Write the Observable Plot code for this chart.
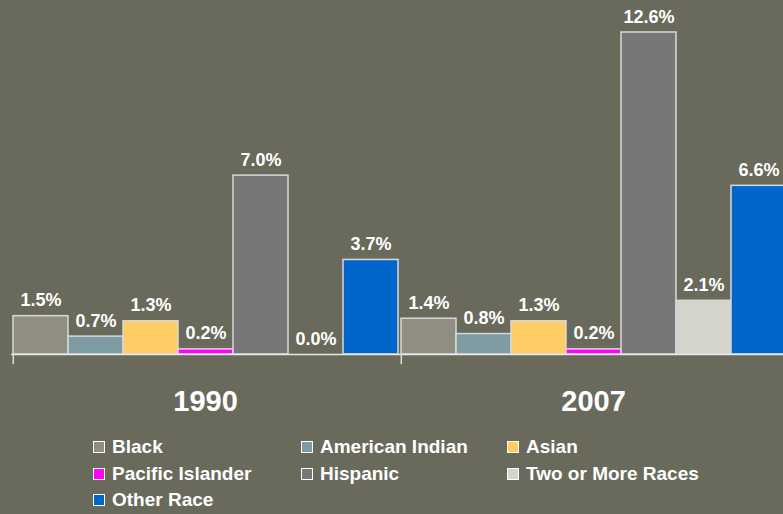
<!DOCTYPE html>
<html>
<head>
<meta charset="utf-8">
<script src="https://cdn.jsdelivr.net/npm/d3@7"></script>
<script src="https://cdn.jsdelivr.net/npm/@observablehq/plot@0.6"></script>
<style>
  html, body { margin: 0; padding: 0; background: #696a5c; overflow: hidden; }
  #wrap { position: relative; width: 783px; height: 514px; overflow: hidden; font-family: "Liberation Sans", Arial, sans-serif; }
  #chart { width: 800px; height: 420px; }
  #chart svg { display: block; background: transparent; max-width: none !important; width: 800px; height: 420px; }
  #legend { display: grid; grid-template-columns: 208px 206px 250px; padding-left: 93px; margin-top: 14px;
            font-size: 19px; font-weight: bold; color: #fff; line-height: 26.5px; white-space: nowrap; }
  #legend span.sw { display: inline-block; width: 10px; height: 10px; border: 1px solid #fff; margin-right: 7px; margin-bottom: 0px; box-sizing: content-box; }
</style>
</head>
<body>
<div id="wrap">
  <div id="chart"></div>
  <div id="legend"></div>
</div>
<script>
const races = ["Black", "American Indian", "Asian", "Pacific Islander", "Hispanic", "Two or More Races", "Other Race"];
const colors = ["#8f8e80", "#7e9ba4", "#ffcc66", "#ff00ff", "#777777", "#d4d4cc", "#0066cc"];
const years = ["1990", "2007"];
const values1990 = [1.5, 0.7, 1.3, 0.2, 7.0, 0.0, 3.7];
const values2007 = [1.4, 0.8, 1.3, 0.2, 12.6, 2.1, 6.6];

const data = [];
races.forEach((r, i) => {
  data.push({year: "1990", race: r, value: values1990[i]});
  data.push({year: "2007", race: r, value: values2007[i]});
});

const W = 800, H = 420, ML = 11, MR = 13, MT = 9, MB = 66;
const bw = (W - ML - MR) / (years.length * races.length);

const chart = Plot.plot({
  width: W,
  height: H,
  marginLeft: ML,
  marginRight: MR,
  marginTop: MT,
  marginBottom: MB,
  style: {background: "transparent", fontFamily: "Liberation Sans, Arial, sans-serif", overflow: "visible", maxWidth: "none"},
  fx: {domain: years, padding: 0, axis: null},
  x: {domain: races, padding: 0, axis: null},
  y: {domain: [0, 13.5], axis: null},
  color: {domain: races, range: colors},
  marks: [
    Plot.barY(data.filter(d => d.value > 0), {fx: "year", x: "race", y: "value", fill: "race", stroke: "#d8d8d8", strokeWidth: 1.5}),
    Plot.ruleY([0], {stroke: "#e8e8e8", strokeWidth: 1.5}),
    Plot.ruleX(years, {fx: d => d, x: () => races[0], y1: 0, y2: -0.4, dx: -bw / 2, stroke: "#d8d8d8", strokeWidth: 1.5}),
    Plot.text(data, {fx: "year", x: "race", y: "value", text: d => d.value.toFixed(1) + "%", lineAnchor: "bottom", dy: -10,
      fill: "#ffffff", fontSize: 18, fontWeight: "bold"}),
    Plot.text(years, {fx: d => d, text: d => d, frameAnchor: "bottom", lineAnchor: "bottom", dy: 56,
      fill: "#ffffff", fontSize: 29, fontWeight: "bold"})
  ]
});
document.getElementById("chart").appendChild(chart);

const legend = document.getElementById("legend");
races.forEach((r, i) => {
  const item = document.createElement("div");
  const sw = document.createElement("span");
  sw.className = "sw";
  sw.style.backgroundColor = colors[i];
  item.appendChild(sw);
  item.appendChild(document.createTextNode(r));
  legend.appendChild(item);
});
</script>
</body>
</html>
